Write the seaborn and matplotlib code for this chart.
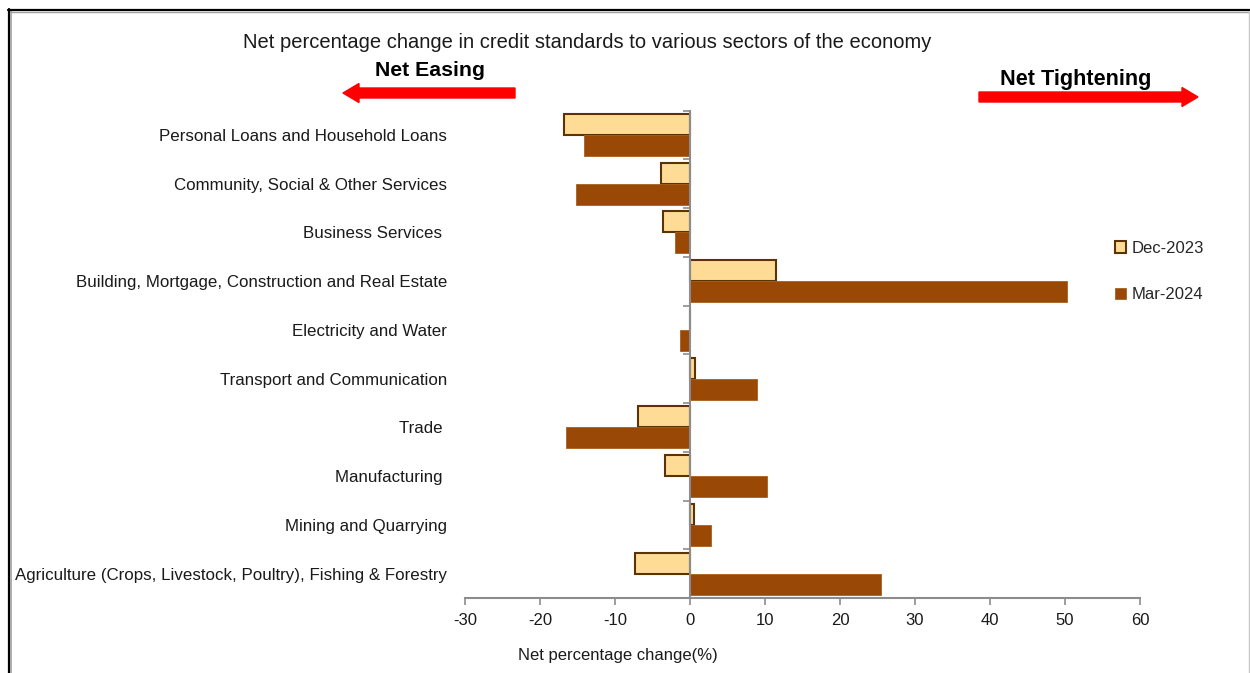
import numpy as np
import pandas as pd
import matplotlib
matplotlib.use('Agg')
import matplotlib.pyplot as plt
from matplotlib.patches import FancyArrow, Patch
from matplotlib.lines import Line2D
import seaborn as sns

# values
sectors = [
    'Personal Loans and Household Loans',
    'Community, Social & Other Services',
    'Business Services ',
    'Building, Mortgage, Construction and Real Estate',
    'Electricity and Water',
    'Transport and Communication',
    'Trade ',
    'Manufacturing ',
    'Mining and Quarrying',
    'Agriculture (Crops, Livestock, Poultry), Fishing & Forestry',
]
dec_2023 = [-16.8, -3.9, -3.6, 11.4, 0.0, 0.6, -6.9, -3.3, 0.5, -7.3]
mar_2024 = [-14.2, -15.2, -2.0, 50.3, -1.4, 8.9, -16.6, 10.3, 2.8, 25.5]
periods = ['Dec-2023', 'Mar-2024']
x_ticks = [-30, -20, -10, 0, 10, 20, 30, 40, 50, 60]

df = pd.DataFrame({'sector': sectors, 'Dec-2023': dec_2023, 'Mar-2024': mar_2024})
df_long = df.melt(id_vars='sector', var_name='period', value_name='value')

sns.set_style('white')
plt.rcParams['font.family'] = ['Liberation Sans', 'DejaVu Sans']

fill = {'Dec-2023': '#FFDC96', 'Mar-2024': '#994805'}
edge = {'Dec-2023': '#5C3305', 'Mar-2024': '#A8601F'}
axis_grey = '#8C8C8C'
txt = '#1a1a1a'

fig = plt.figure(figsize=(12.5, 6.73), dpi=100)
ax = fig.add_axes([0.372, 0.1114, 0.54, 0.7243])

sns.barplot(data=df_long, y='sector', x='value', hue='period', order=sectors,
            hue_order=periods, palette=fill, saturation=1, orient='h', width=0.86,
            legend=False, ax=ax)

for cont, p in zip(ax.containers, periods):
    for bar in cont:
        bar.set_edgecolor(edge[p])
        bar.set_linewidth(1.5 if p == 'Dec-2023' else 0.6)

ax.set_xlim(-30, 60)
ax.set_ylim(len(sectors) - 0.5, -0.5)
ax.set_xticks(x_ticks)
ax.set_xticklabels([str(t) for t in x_ticks])
ax.set_ylabel('')
ax.set_xlabel('Net percentage change(%)', fontsize=12, color=txt)
ax.xaxis.set_label_coords(0.227, -0.102)

for s in ['left', 'top', 'right']:
    ax.spines[s].set_visible(False)
ax.spines['bottom'].set_color(axis_grey)
ax.spines['bottom'].set_linewidth(1.5)
ax.tick_params(axis='x', direction='out', length=5, width=1.2, color=axis_grey,
               labelsize=12, labelcolor=txt, pad=6, bottom=True)
ax.tick_params(axis='y', length=0, pad=13, labelsize=12.2, labelcolor=txt)

# zero line with ticks at the category boundaries
ax2 = ax.twinx()
ax2.set_ylim(ax.get_ylim())
for s in ['left', 'top', 'bottom']:
    ax2.spines[s].set_visible(False)
ax2.spines['right'].set_position(('data', 0))
ax2.spines['right'].set_color(axis_grey)
ax2.spines['right'].set_linewidth(1.5)
ax2.set_yticks(np.arange(-0.5, len(sectors), 1.0))
ax2.tick_params(axis='y', direction='in', length=5, width=1.2, color=axis_grey,
                labelright=False)

handles = [Patch(facecolor=fill[p], edgecolor=edge[p], linewidth=1.5 if p == 'Dec-2023' else 0.6)
           for p in periods]
fig.legend(handles, periods, loc='upper left', bbox_to_anchor=(0.885, 0.655),
           frameon=False, fontsize=12, handlelength=0.7, handleheight=0.7,
           handletextpad=0.3, labelspacing=1.9, borderpad=0)

fig.text(587 / 1250, 1 - 42 / 673, 'Net percentage change in credit standards to various sectors of the economy',
         ha='center', va='center', fontsize=14.5, color=txt)
fig.text(430 / 1250, 1 - 71 / 673, 'Net Easing', ha='center', va='center',
         fontsize=15.3, fontweight='bold', color='black')
fig.text(1076 / 1250, 1 - 79 / 673, 'Net Tightening', ha='center', va='center',
         fontsize=15.6, fontweight='bold', color='black')

for x0, x1, y in [(515, 343, 93), (979, 1198, 97)]:
    fig.patches.append(FancyArrow(x0 / 1250, 1 - y / 673, (x1 - x0) / 1250, 0,
                                  width=10 / 673, head_width=19 / 673, head_length=16 / 1250,
                                  length_includes_head=True, color='#FF0000',
                                  transform=fig.transFigure, figure=fig))

# frame around the picture
fig.add_artist(Line2D([8.5 / 1250, 8.5 / 1250], [0, 1 - 9 / 673], color='black', lw=1.6,
                      transform=fig.transFigure))
fig.add_artist(Line2D([10.5 / 1250, 10.5 / 1250], [0, 1 - 11 / 673], color='#A0A0A0', lw=1.2,
                      transform=fig.transFigure))
fig.add_artist(Line2D([7.5 / 1250, 1], [1 - 10 / 673, 1 - 10 / 673], color='black', lw=1.6,
                      transform=fig.transFigure))
fig.add_artist(Line2D([10 / 1250, 1], [1 - 12 / 673, 1 - 12 / 673], color='#A0A0A0', lw=1.0,
                      transform=fig.transFigure))
fig.add_artist(Line2D([1248.5 / 1250, 1248.5 / 1250], [0, 1 - 12 / 673], color='#C8C8C8', lw=1.0,
                      transform=fig.transFigure))

fig.savefig('out.png', dpi=100)
